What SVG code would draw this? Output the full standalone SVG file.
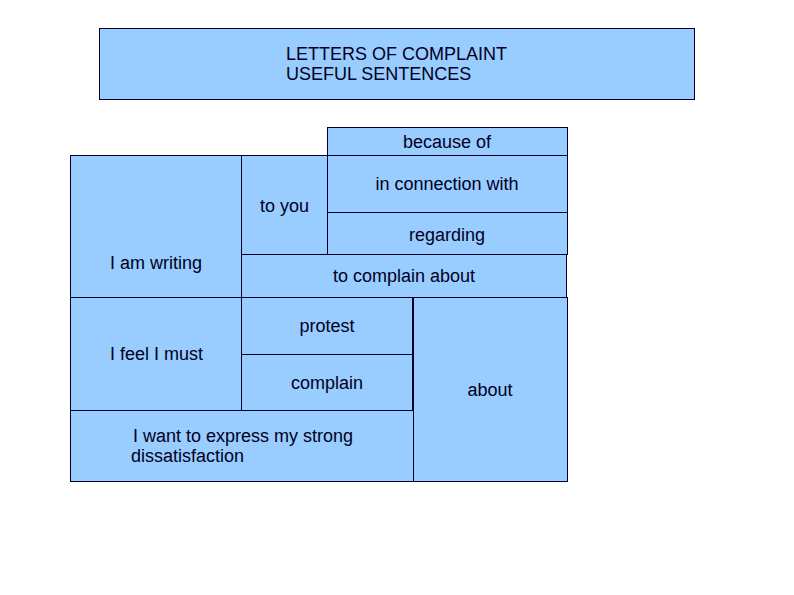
<svg xmlns="http://www.w3.org/2000/svg" width="794" height="595" viewBox="0 0 794 595">
<style>
.b{fill:#99ccff;stroke:#000022;stroke-width:1}
.t{font-family:"Liberation Sans",Arial,sans-serif;font-size:18px;fill:#000022}
.c{text-anchor:middle}
</style>
<rect width="794" height="595" fill="#ffffff"/>
<g id="title"><rect class="b" x="99.5" y="28.5" width="595" height="71"/><text class="t" x="286" y="60">LETTERS OF COMPLAINT</text><text class="t" x="286" y="80">USEFUL SENTENCES</text></g>
<g id="because-of"><rect class="b" x="327.5" y="127.5" width="240" height="28"/><text class="t c" x="447" y="148">because of</text></g>
<g id="i-am-writing"><rect class="b" x="70.5" y="155.5" width="171" height="142"/><text class="t" x="110" y="269">I am writing</text></g>
<g id="to-you"><rect class="b" x="241.5" y="155.5" width="86" height="99"/><text class="t" x="260" y="212">to you</text></g>
<g id="in-connection-with"><rect class="b" x="327.5" y="155.5" width="240" height="57"/><text class="t c" x="447" y="190">in connection with</text></g>
<g id="regarding"><rect class="b" x="327.5" y="212.5" width="240" height="42"/><text class="t c" x="447" y="241">regarding</text></g>
<g id="to-complain-about"><rect class="b" x="241.5" y="254.5" width="325" height="43"/><text class="t c" x="404" y="282">to complain about</text></g>
<g id="i-feel-i-must"><rect class="b" x="70.5" y="297.5" width="171" height="113"/><text class="t" x="110" y="360">I feel I must</text></g>
<g id="protest"><rect class="b" x="241.5" y="297.5" width="171" height="57"/><text class="t c" x="327" y="332">protest</text></g>
<g id="complain"><rect class="b" x="241.5" y="354.5" width="171" height="56"/><text class="t c" x="327" y="389">complain</text></g>
<g id="about"><rect class="b" x="413.5" y="297.5" width="154" height="184"/><text class="t c" x="490" y="396">about</text></g>
<g id="express"><rect class="b" x="70.5" y="410.5" width="343" height="71"/><text class="t" x="133" y="442">I want to express my strong</text><text class="t" x="131" y="462">dissatisfaction</text></g>
<g id="connectors"></g>
</svg>
